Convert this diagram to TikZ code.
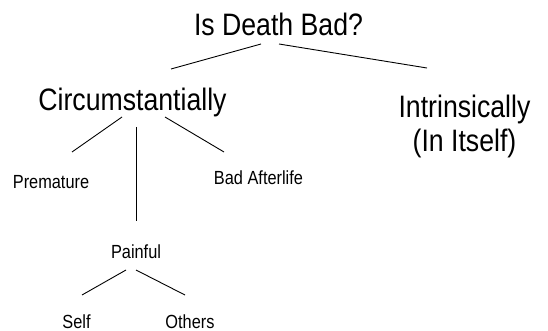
\documentclass[tikz,border=0pt]{standalone}
\usepackage{fontspec}
\setmainfont{Liberation Sans}[FakeStretch=0.86]
\begin{document}
\begin{tikzpicture}[x=1pt,y=-1pt,
  big/.style={anchor=base,inner sep=0pt,font=\fontsize{31}{34}\selectfont},
  small/.style={anchor=base,inner sep=0pt,font=\fontsize{19}{22}\selectfont},
  edge/.style={draw=black,line width=0.9pt}]
\useasboundingbox[fill=white] (0,0) rectangle (548,331);
% nodes
\node[big] (root) at (278.5,35.5) {Is Death Bad?};
\node[big] (circ) at (132.5,111) {Circumstantially};
\node[big,align=center] (intr) at (464.5,152) {Intrinsically\\(In Itself)};
\node[small] (prem) at (51,188) {Premature};
\node[small] (after) at (258.5,184) {Bad Afterlife};
\node[small] (pain) at (136,258) {Painful};
\node[small] (self) at (76.5,328) {Self};
\node[small] (oth) at (190,328) {Others};
% connector end points
\coordinate (r1) at (261,44);
\coordinate (r2) at (279,44);
\coordinate (c0) at (171,69);
\coordinate (i0) at (427,68);
\coordinate (c1) at (122,117);
\coordinate (c2) at (136,127);
\coordinate (c3) at (165,117);
\coordinate (p0) at (72,152);
\coordinate (q0) at (136,221);
\coordinate (a0) at (224,152);
\coordinate (pl) at (126,270);
\coordinate (pr) at (136,270);
\coordinate (s0) at (82,295);
\coordinate (o0) at (185,295);
% connectors
\draw[edge] (r1) -- (c0);
\draw[edge] (r2) -- (i0);
\draw[edge] (c1) -- (p0);
\draw[edge] (c2) -- (q0);
\draw[edge] (c3) -- (a0);
\draw[edge] (pl) -- (s0);
\draw[edge] (pr) -- (o0);
\end{tikzpicture}
\end{document}
